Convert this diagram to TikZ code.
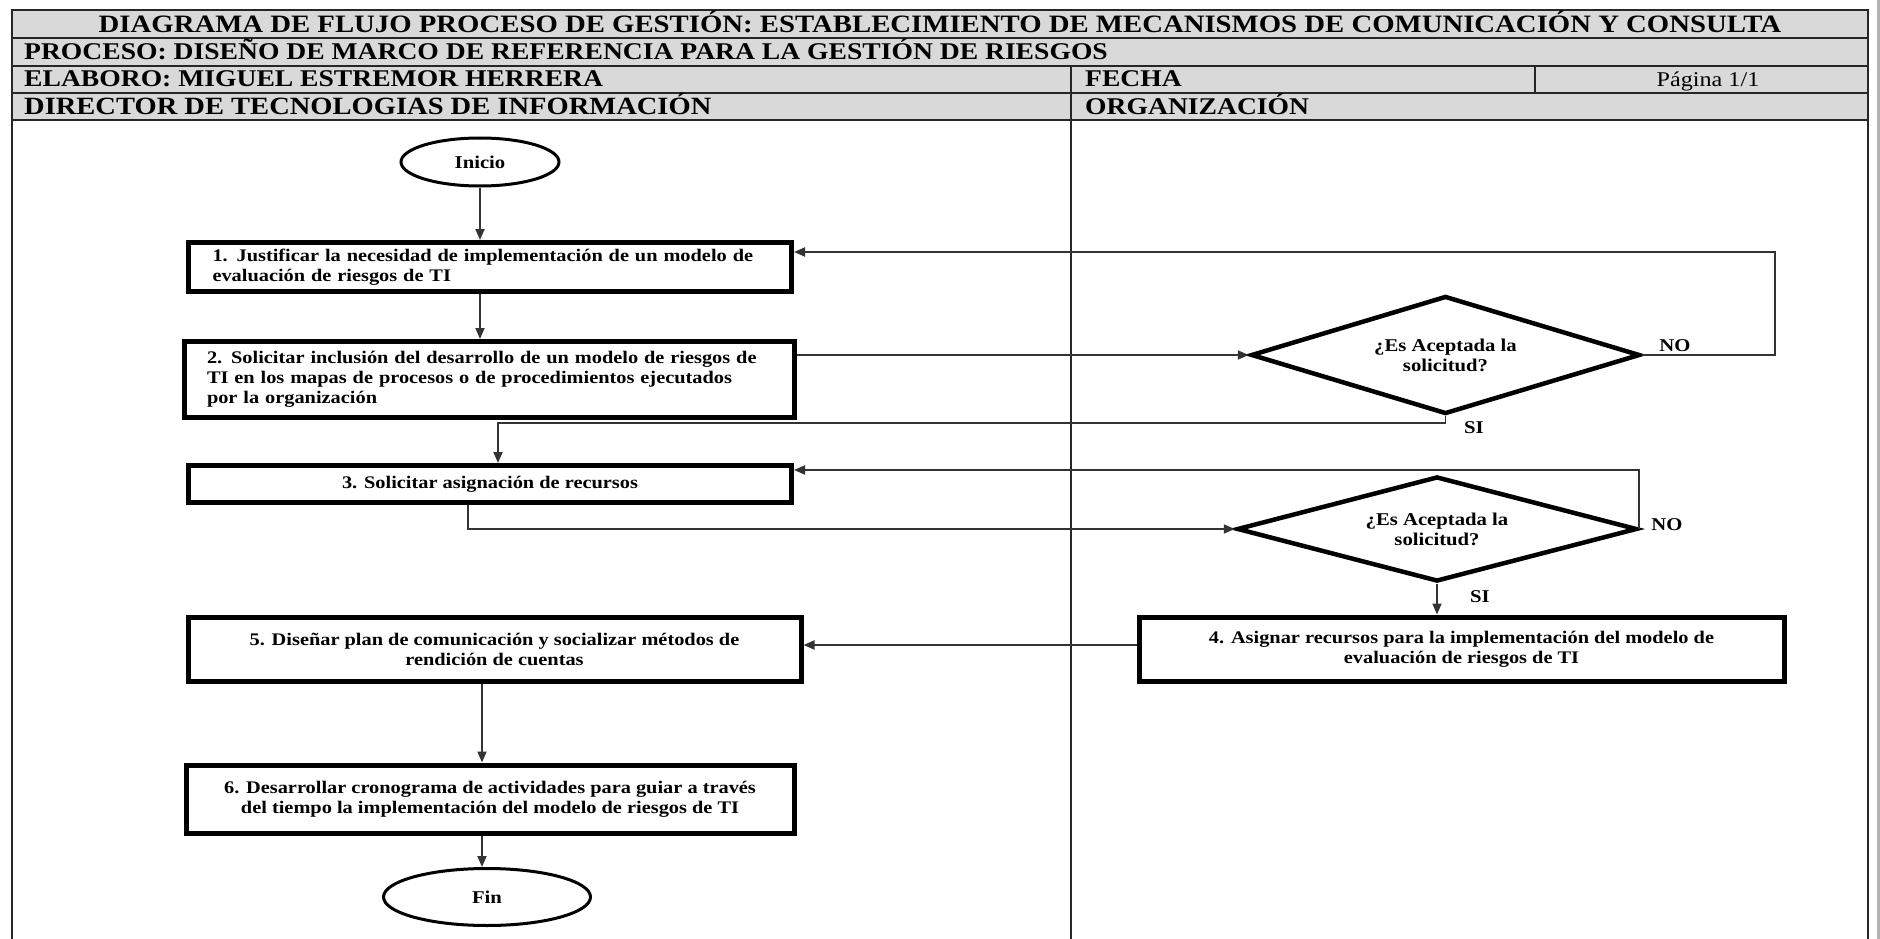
\documentclass[tikz,border=0pt]{standalone}
\usepackage{fontspec}
\setmainfont{Liberation Serif}[FakeStretch=1.15]
\usetikzlibrary{shapes.geometric,arrows.meta,calc}

\begin{document}
\begin{tikzpicture}[x=1pt,y=-1pt,
  hdr/.style={font=\bfseries\fontsize{24}{26}\selectfont, anchor=base west, inner sep=0pt},
  stepbox/.style={draw=black, line width=5pt, rectangle, inner sep=0pt,
    font=\bfseries\fontsize{17.7}{20}\selectfont},
  decision/.style={draw=black, line width=4.5pt, diamond, inner sep=0pt,
    font=\bfseries\fontsize{18}{20}\selectfont, align=center},
  terminal/.style={draw=black, line width=3pt, ellipse, inner sep=0pt,
    font=\bfseries\fontsize{18}{20}\selectfont},
  flow/.style={line width=1.8pt, draw=black!80, -{Triangle[length=11pt,width=9pt]}},
  lbl/.style={font=\bfseries\fontsize{18}{20}\selectfont, inner sep=0pt},
  rule/.style={line width=2.5pt, draw=black!85}
]
\useasboundingbox (0,0) rectangle (1880,939);

% header bands and frame
\fill[gray!30] (12,10) rectangle (1868,120);
\draw[rule] (12,939) -- (12,10) -- (1868,10) -- (1868,939);
\foreach \y in {38,66,93,120} \draw[rule] (12,\y) -- (1868,\y);
\draw[rule] (1071,66) -- (1071,939);
\draw[rule] (1535,66) -- (1535,93);
\draw[gray!60, line width=3pt] (1878,0) -- (1878,939);

% header texts
\node[hdr, font=\bfseries\fontsize{25}{26}\selectfont, anchor=base] (title) at (940,33)
  {DIAGRAMA DE FLUJO PROCESO DE GESTIÓN: ESTABLECIMIENTO DE MECANISMOS DE COMUNICACIÓN Y CONSULTA};
\node[hdr] (proc) at (24,60) {PROCESO: DISEÑO DE MARCO DE REFERENCIA PARA LA GESTIÓN DE RIESGOS};
\node[hdr] (elab) at (24,87) {ELABORO: MIGUEL ESTREMOR HERRERA};
\node[hdr] (fecha) at (1085,87) {FECHA};
\node[hdr, font=\fontsize{21}{24}\selectfont, anchor=base] (pag) at (1708,87) {Página 1/1};
\node[hdr, font=\bfseries\fontsize{24.8}{26}\selectfont] (dir) at (24,115) {DIRECTOR DE TECNOLOGIAS DE INFORMACIÓN};
\node[hdr] (org) at (1085,115) {ORGANIZACIÓN};

% flow nodes
\node[terminal, minimum width=158pt, minimum height=48pt] (inicio) at (480,162) {Inicio};
\node[stepbox, minimum width=603pt, minimum height=49pt, text width=555pt, align=left] (s1) at (490,267)
  {1. Justificar la necesidad de implementación de un modelo de\\evaluación de riesgos de TI};
\node[stepbox, minimum width=610pt, minimum height=76pt, text width=565pt, align=left] (s2) at (489.5,379.5)
  {2. Solicitar inclusión del desarrollo de un modelo de riesgos de\\TI en los mapas de procesos o de procedimientos ejecutados\\por la organización};
\node[decision, aspect=3.3, minimum width=389pt, minimum height=118pt] (q1) at (1445.5,355) {¿Es Aceptada la\\solicitud?};
\node[stepbox, minimum width=603pt, minimum height=37pt, align=center] (s3) at (490,484)
  {3. Solicitar asignación de recursos};
\node[decision, aspect=3.8, minimum width=400pt, minimum height=105pt] (q2) at (1437,529) {¿Es Aceptada la\\solicitud?};
\node[stepbox, minimum width=645pt, minimum height=64pt, align=center] (s4) at (1461.5,649)
  {4. Asignar recursos para la implementación del modelo de\\evaluación de riesgos de TI};
\node[stepbox, minimum width=613pt, minimum height=64pt, align=center] (s5) at (494.5,649)
  {5. Diseñar plan de comunicación y socializar métodos de\\rendición de cuentas};
\node[stepbox, minimum width=608pt, minimum height=68pt, align=center] (s6) at (490,799)
  {6. Desarrollar cronograma de actividades para guiar a través\\del tiempo la implementación del modelo de riesgos de TI};
\node[terminal, minimum width=207pt, minimum height=57pt] (fin) at (487,897) {Fin};

% routing points
\coordinate (r1) at (1775,252);
\coordinate (si1) at (498,423);
\coordinate (r2) at (1635,470);
\coordinate (c3) at (468,504);
\coordinate (c4) at (1139,645);
\coordinate (c5) at (482,681);

% connectors
\draw[flow] (inicio.south) -- (inicio.south |- s1.north);
\draw[flow] (inicio.south |- s1.south) -- (inicio.south |- s2.north);
\draw[flow] (s2.east |- q1.west) -- (q1.west);
\draw[flow] (q1.east) -| (r1) -- (r1 -| s1.east);
\draw[flow] (q1.south) |- (si1) -- (si1 |- s3.north);
\draw[flow] (q2.east) -- (q2.east |- r2) -- (r2 -| s3.east);
\draw[flow] (c3 |- s3.south) |- (q2.west);
\draw[flow] (q2.south) -- (q2.south |- s4.north);
\draw[flow] (c4 -| s4.west) -- (c4 -| s5.east);
\draw[flow] (c5 |- s5.south) -- (c5 |- s6.north);
\draw[flow] (c5 |- s6.south) -- (c5 |- fin.north);

% branch labels
\node[lbl] (no1) at (1675,346) {NO};
\node[lbl] (yes1) at (1474,428) {SI};
\node[lbl] (no2) at (1667,525) {NO};
\node[lbl] (yes2) at (1480,597) {SI};
\end{tikzpicture}
\end{document}
